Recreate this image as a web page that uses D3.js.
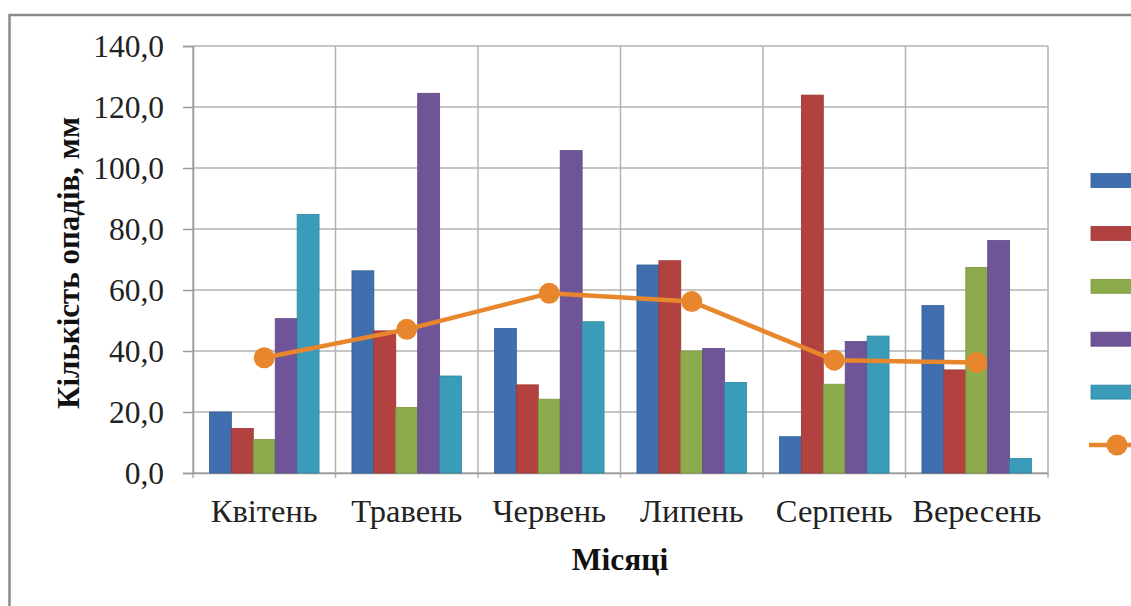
<!DOCTYPE html>
<html>
<head>
<meta charset="utf-8">
<script src="https://cdn.jsdelivr.net/npm/d3@7"></script>
<style>
  html, body { margin: 0; padding: 0; background: #fff; }
  svg { display: block; }
</style>
</head>
<body>
<svg id="chart" width="1131" height="606"></svg>
<script>
// Months on the category axis
const months = ["Квітень", "Травень", "Червень", "Липень", "Серпень", "Вересень"];

// Monthly precipitation, mm, one array per bar series
const series1 = [20.0, 66.3, 47.4, 68.2, 11.9, 54.9];
const series2 = [14.6, 46.6, 28.9, 69.6, 123.9, 33.8];
const series3 = [11.0, 21.5, 24.2, 40.0, 29.1, 67.4];
const series4 = [50.6, 124.5, 105.7, 40.8, 43.1, 76.2];
const series5 = [84.8, 31.8, 49.6, 29.7, 44.9, 4.8];

// Line series with markers
const lineValues = [37.8, 47.1, 58.9, 56.2, 37.0, 36.2];

// Value-axis ticks
const yTicks = [0, 20, 40, 60, 80, 100, 120, 140];

const barSeries = [series1, series2, series3, series4, series5];
const barColors = ["#3f6fae", "#b2423f", "#8bab4c", "#6f5598", "#3a9cb8"];
const barStroke = ["#34609a", "#9c3533", "#7a983f", "#5f4886", "#2f89a3"];
const lineColor = "#e8862e";

const svg = d3.select("#chart");
const plot = { left: 193, right: 1048, top: 46, bottom: 473 };
const serif = "'Liberation Serif', 'Times New Roman', serif";

// Outer chart frame
svg.append("rect")
  .attr("x", 9.5).attr("y", 15)
  .attr("width", 1140).attr("height", 700)
  .attr("fill", "#fff")
  .attr("stroke", "#8a8a8a").attr("stroke-width", 2.5);

const x = d3.scaleBand().domain(months).range([plot.left, plot.right]).paddingInner(0).paddingOuter(0);
const y = d3.scaleLinear().domain([0, 140]).range([plot.bottom, plot.top]);

// Horizontal gridlines
svg.append("g")
  .selectAll("line")
  .data(yTicks)
  .join("line")
  .attr("x1", plot.left).attr("x2", plot.right)
  .attr("y1", d => y(d)).attr("y2", d => y(d))
  .attr("stroke", "#b3b3b3").attr("stroke-width", 1.5);

// Vertical gridlines at category boundaries
const bounds = months.map(m => x(m)).concat([plot.right]);
svg.append("g")
  .selectAll("line")
  .data(bounds)
  .join("line")
  .attr("x1", d => d).attr("x2", d => d)
  .attr("y1", plot.top).attr("y2", plot.bottom + 5)
  .attr("stroke", "#b3b3b3").attr("stroke-width", 1.5);

// Left value axis
const yAxis = d3.axisLeft(y)
  .tickValues(yTicks)
  .tickSize(10)
  .tickPadding(19)
  .tickFormat(d => d3.format(".1f")(d).replace(".", ","));
const gy = svg.append("g").attr("transform", `translate(${plot.left},0)`).call(yAxis);
gy.select(".domain").attr("stroke", "#9a9a9a").attr("stroke-width", 1.5);
gy.selectAll(".tick line").attr("stroke", "#9a9a9a").attr("stroke-width", 1.5);
gy.selectAll(".tick text")
  .attr("font-family", serif).attr("font-size", 31.5).attr("fill", "#222");

// Category axis labels
const xAxis = d3.axisBottom(x).tickSize(0).tickPadding(26);
const gx = svg.append("g").attr("transform", `translate(0,${plot.bottom})`).call(xAxis);
gx.select(".domain").attr("stroke", "#9a9a9a").attr("stroke-width", 1.5);
gx.selectAll(".tick text")
  .attr("font-family", serif).attr("font-size", 32.5).attr("fill", "#222");

// Clustered bars
const inner = d3.scaleBand()
  .domain(d3.range(barSeries.length))
  .range([0, x.bandwidth()])
  .paddingInner(0)
  .paddingOuter(0.75);

barSeries.forEach((vals, si) => {
  svg.append("g")
    .selectAll("rect")
    .data(vals)
    .join("rect")
    .attr("x", (d, i) => x(months[i]) + inner(si))
    .attr("y", d => y(d))
    .attr("width", inner.bandwidth())
    .attr("height", d => y(0) - y(d))
    .attr("fill", barColors[si])
    .attr("stroke", barStroke[si])
    .attr("stroke-width", 0.8);
});

// Line with circle markers
const line = d3.line()
  .x((d, i) => x(months[i]) + x.bandwidth() / 2)
  .y(d => y(d));
svg.append("path")
  .datum(lineValues)
  .attr("d", line)
  .attr("fill", "none")
  .attr("stroke", lineColor)
  .attr("stroke-width", 4.5)
  .attr("stroke-linejoin", "round");
svg.append("g")
  .selectAll("circle")
  .data(lineValues)
  .join("circle")
  .attr("cx", (d, i) => x(months[i]) + x.bandwidth() / 2)
  .attr("cy", d => y(d))
  .attr("r", 10.5)
  .attr("fill", lineColor);

// Axis titles
svg.append("text")
  .attr("transform", `translate(79,263) rotate(-90)`)
  .attr("text-anchor", "middle")
  .attr("font-family", serif).attr("font-size", 31).attr("font-weight", "bold")
  .attr("fill", "#111")
  .text("Кількість опадів, мм");

svg.append("text")
  .attr("x", 620)
  .attr("y", 570)
  .attr("text-anchor", "middle")
  .attr("font-family", serif).attr("font-size", 31.5).attr("font-weight", "bold")
  .attr("fill", "#111")
  .text("Місяці");

// Legend keys (entries continue past the right edge)
const legendY = d3.scalePoint()
  .domain(d3.range(barSeries.length + 1))
  .range([180.5, 445]);
svg.append("g")
  .selectAll("rect")
  .data(barSeries.map((s, i) => i))
  .join("rect")
  .attr("x", 1091).attr("y", d => legendY(d) - 7)
  .attr("width", 60).attr("height", 14)
  .attr("fill", d => barColors[d])
  .attr("stroke", d => barStroke[d]).attr("stroke-width", 0.8);
const ly = legendY(barSeries.length);
svg.append("line")
  .attr("x1", 1089).attr("x2", 1160)
  .attr("y1", ly).attr("y2", ly)
  .attr("stroke", lineColor).attr("stroke-width", 4.5);
svg.append("circle")
  .attr("cx", 1117).attr("cy", ly).attr("r", 10.5)
  .attr("fill", lineColor);
</script>
</body>
</html>
